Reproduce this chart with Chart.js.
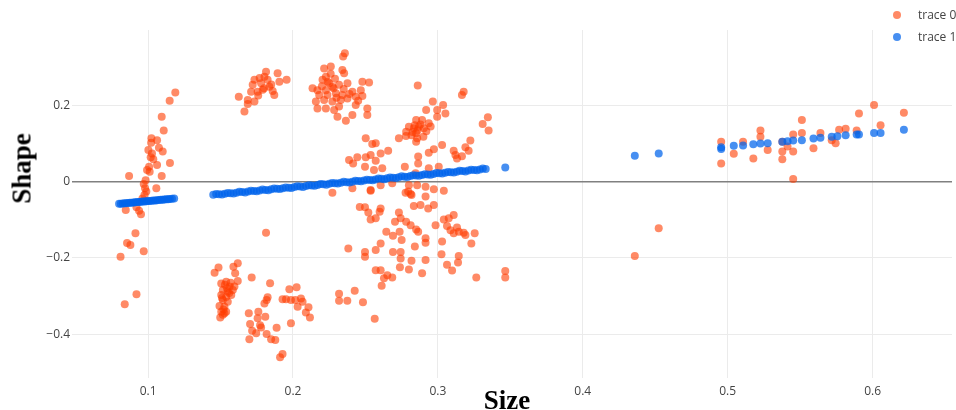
<!DOCTYPE html>
<html>
<head>
<meta charset="utf-8">
<script src="https://cdn.jsdelivr.net/npm/chart.js@4.4.1/dist/chart.umd.min.js"></script>
<style>
  html, body { margin: 0; padding: 0; background: #fff; }
  #wrap { position: relative; width: 956px; height: 410px; overflow: hidden; }
  canvas { position: absolute; left: 0; top: 0; }
  .ttl { position: absolute; font-family: "Liberation Serif", "Times New Roman", serif; font-weight: bold; font-size: 27px; line-height: 27px; color: #000; text-align: center; white-space: nowrap; }
  .leg { position: absolute; font-family: "Open Sans", sans-serif; font-size: 12px; color: #444; white-space: nowrap; line-height: 14px; }
  .dot { position: absolute; width: 8px; height: 8px; border-radius: 50%; }
</style>
</head>
<body>
<div id="wrap">
  <canvas id="c" width="956" height="410"></canvas>
  <div class="ttl" style="left:-28px;top:155px;width:100px;height:27px;transform:rotate(-90deg);">Shape</div>
  <div class="ttl" style="left:457px;top:387px;width:100px;height:27px;">Size</div>
  <div class="dot" style="left:893px;top:11px;background:rgba(255,60,0,0.6);"></div>
  <div class="leg" style="left:918px;top:8px;">trace 0</div>
  <div class="dot" style="left:893px;top:33px;background:rgba(0,100,235,0.72);"></div>
  <div class="leg" style="left:918px;top:30px;">trace 1</div>
</div>
<script>
// ---- data ----
const seriesNames = ['trace 0', 'trace 1'];
const xTicks = [0.1, 0.2, 0.3, 0.4, 0.5, 0.6];
const xTickLabels = ['0.1', '0.2', '0.3', '0.4', '0.5', '0.6'];
const yTicks = [-0.4, -0.2, 0, 0.2];
const yTickLabels = ['\u22120.4', '\u22120.2', '0', '0.2'];

// trace 0 (orange) clusters, [Size, Shape]
const trace0Left = [[0.1188,0.234],[0.1149,0.212],[0.1094,0.170],[0.1108,0.134],[0.1023,0.114],[0.1062,0.109],[0.1021,0.102],[0.1075,0.089],[0.1002,0.083],[0.1101,0.079],[0.1027,0.074],[0.1018,0.064],[0.1036,0.059],[0.1062,0.044],[0.1151,0.049],[0.1007,0.039],[0.0993,0.031],[0.1011,0.026],[0.1094,0.015],[0.0869,0.015],[0.0983,0.004],[0.0970,-0.006],[0.1057,-0.017],[0.0979,-0.017],[0.0988,-0.026],[0.0975,-0.035],[0.0961,-0.044],[0.0920,-0.067],[0.0846,-0.074],[0.0938,-0.076],[0.0951,-0.085],[0.0913,-0.135],[0.0855,-0.161],[0.0878,-0.166],[0.0970,-0.182],[0.0810,-0.197],[0.0920,-0.295],[0.0839,-0.321]];
const trace0UpperA = [[0.1814,0.288],[0.1894,0.284],[0.1803,0.275],[0.1734,0.267],[0.1825,0.267],[0.1906,0.262],[0.1956,0.267],[0.1780,0.258],[0.1722,0.254],[0.1837,0.249],[0.1791,0.241],[0.1711,0.236],[0.1756,0.236],[0.1871,0.227],[0.1626,0.223],[0.1688,0.214],[0.1734,0.210],[0.1688,0.204],[0.1665,0.184],[0.1770,0.272],[0.1850,0.255],[0.1800,0.245],[0.1860,0.238],[0.1760,0.226]];
const trace0UpperB = [[0.2358,0.337],[0.2346,0.328],[0.2215,0.297],[0.2261,0.302],[0.2341,0.293],[0.2353,0.284],[0.2227,0.275],[0.2204,0.267],[0.2250,0.258],[0.2135,0.245],[0.2169,0.240],[0.2227,0.240],[0.2272,0.249],[0.2318,0.254],[0.2376,0.258],[0.2479,0.262],[0.2525,0.260],[0.2181,0.227],[0.2238,0.227],[0.2296,0.232],[0.2341,0.227],[0.2410,0.236],[0.2468,0.240],[0.2158,0.210],[0.2215,0.214],[0.2272,0.210],[0.2330,0.214],[0.2376,0.218],[0.2433,0.223],[0.2479,0.225],[0.2169,0.192],[0.2227,0.192],[0.2284,0.188],[0.2318,0.197],[0.2433,0.201],[0.2513,0.192],[0.2307,0.170],[0.2365,0.160],[0.2410,0.175],[0.2513,0.175],[0.2240,0.262],[0.2290,0.270],[0.2280,0.245],[0.2300,0.220],[0.2390,0.230],[0.2200,0.250],[0.2260,0.283],[0.2350,0.243],[0.2450,0.212]];
const trace0LowerA = [[0.1459,-0.239],[0.1486,-0.225],[0.1589,-0.223],[0.1619,-0.214],[0.1601,-0.240],[0.1619,-0.260],[0.1505,-0.267],[0.1539,-0.262],[0.1562,-0.275],[0.1596,-0.275],[0.1516,-0.284],[0.1550,-0.288],[0.1585,-0.284],[0.1505,-0.297],[0.1539,-0.302],[0.1574,-0.297],[0.1516,-0.310],[0.1550,-0.315],[0.1493,-0.326],[0.1527,-0.328],[0.1505,-0.341],[0.1539,-0.341],[0.1516,-0.349],[0.1498,-0.356],[0.1527,-0.345],[0.1715,-0.251],[0.1814,-0.134],[0.1530,-0.270],[0.1560,-0.292],[0.1545,-0.280],[0.1520,-0.335],[0.1570,-0.265],[0.1510,-0.305]];
const trace0LowerB = [[0.1825,-0.303],[0.1818,-0.310],[0.1803,-0.319],[0.1761,-0.341],[0.1695,-0.345],[0.1756,-0.358],[0.1809,-0.354],[0.1704,-0.373],[0.1773,-0.376],[0.1780,-0.382],[0.1718,-0.391],[0.1746,-0.397],[0.1887,-0.383],[0.1818,-0.399],[0.1699,-0.413],[0.1849,-0.413],[0.1878,-0.415],[0.1928,-0.452],[0.1911,-0.460],[0.1975,-0.282],[0.2025,-0.277],[0.1928,-0.308],[0.1952,-0.308],[0.1986,-0.310],[0.2016,-0.310],[0.2055,-0.306],[0.2066,-0.315],[0.2032,-0.328],[0.2107,-0.329],[0.2089,-0.343],[0.2117,-0.356],[0.1986,-0.371],[0.1842,-0.266],[0.2318,-0.294],[0.2318,-0.312],[0.2375,-0.312],[0.2426,-0.286],[0.2382,-0.175],[0.2483,-0.316],[0.2564,-0.359]];
const trace0MidUpper = [[0.2861,0.252],[0.3178,0.236],[0.3166,0.227],[0.2965,0.210],[0.3036,0.201],[0.2919,0.188],[0.2995,0.188],[0.3052,0.179],[0.2995,0.170],[0.3345,0.169],[0.3309,0.151],[0.3350,0.134],[0.2937,0.153],[0.2891,0.162],[0.2850,0.162],[0.2800,0.144],[0.2834,0.140],[0.2869,0.144],[0.2903,0.140],[0.2781,0.131],[0.2850,0.127],[0.2818,0.122],[0.2857,0.114],[0.2850,0.105],[0.2731,0.114],[0.3224,0.108],[0.3190,0.090],[0.3212,0.081],[0.3109,0.081],[0.3166,0.067],[0.3132,0.061],[0.3121,0.070],[0.3029,0.096],[0.2972,0.085],[0.2937,0.076],[0.2864,0.066],[0.2864,0.048],[0.2772,0.039],[0.2846,0.022],[0.2937,0.035],[0.3006,0.039],[0.2571,0.101],[0.2547,0.099],[0.2502,0.114],[0.2657,0.081],[0.2605,0.074],[0.2536,0.070],[0.2444,0.064],[0.2387,0.057],[0.2502,0.064],[0.2571,0.055],[0.2415,0.048],[0.2497,0.039],[0.2559,0.031],[0.2616,0.035],[0.2685,-0.004],[0.2800,-0.009],[0.2857,-0.009],[0.2915,-0.013],[0.2972,-0.020],[0.3041,-0.024],[0.2818,-0.035],[0.2915,-0.039],[0.2536,-0.022],[0.2410,-0.017],[0.2795,-0.026],[0.2272,-0.029],[0.2605,-0.009],[0.2812,-0.032],[0.2536,-0.024],[0.2880,0.150],[0.2860,0.135],[0.2840,0.148],[0.2825,0.130],[0.2950,0.145],[0.2920,0.132],[0.2780,0.120],[0.2900,0.118]];
const trace0MidLower = [[0.2777,-0.029],[0.2461,-0.066],[0.2497,-0.067],[0.2520,-0.081],[0.2536,-0.099],[0.2571,-0.096],[0.2605,-0.070],[0.2598,-0.079],[0.2731,-0.081],[0.2743,-0.096],[0.2704,-0.105],[0.2781,-0.105],[0.2812,-0.114],[0.2850,-0.125],[0.2864,-0.131],[0.2834,-0.064],[0.2880,-0.061],[0.2933,-0.070],[0.2972,-0.061],[0.2984,-0.114],[0.2915,-0.148],[0.2915,-0.160],[0.2841,-0.170],[0.3029,-0.157],[0.2644,-0.131],[0.2690,-0.142],[0.2736,-0.131],[0.2750,-0.153],[0.2605,-0.162],[0.2571,-0.179],[0.2497,-0.184],[0.2497,-0.197],[0.2690,-0.184],[0.2743,-0.184],[0.2743,-0.201],[0.2818,-0.207],[0.2915,-0.205],[0.2738,-0.224],[0.2800,-0.230],[0.2891,-0.240],[0.2571,-0.232],[0.2605,-0.232],[0.2628,-0.253],[0.2651,-0.245],[0.2685,-0.251],[0.2612,-0.273],[0.3041,-0.099],[0.3063,-0.116],[0.3075,-0.096],[0.3109,-0.087],[0.3132,-0.120],[0.3087,-0.127],[0.3109,-0.135],[0.3144,-0.131],[0.3178,-0.134],[0.3190,-0.140],[0.3254,-0.135],[0.3231,-0.162],[0.3025,-0.190],[0.3144,-0.195],[0.3139,-0.212],[0.3063,-0.218],[0.3098,-0.233],[0.3265,-0.251],[0.3465,-0.234],[0.3465,-0.251]];
const trace0Right = [[0.4955,0.105],[0.4955,0.048],[0.5042,0.073],[0.5106,0.105],[0.5177,0.061],[0.5226,0.134],[0.5226,0.118],[0.5276,0.083],[0.5377,0.105],[0.5377,0.079],[0.5377,0.059],[0.5413,0.092],[0.5452,0.124],[0.5452,0.079],[0.5452,0.007],[0.5512,0.162],[0.5512,0.128],[0.5592,0.088],[0.5640,0.128],[0.5718,0.109],[0.5745,0.101],[0.5769,0.136],[0.5814,0.139],[0.5890,0.134],[0.5906,0.179],[0.6010,0.201],[0.6055,0.148],[0.6216,0.181],[0.4359,-0.195],[0.4524,-0.122]];

// trace 1 (blue) points, [Size, Shape]
const trace1Left = [[0.080,-0.0580],[0.0812,-0.0576],[0.0825,-0.0571],[0.0838,-0.0567],[0.085,-0.0562],[0.0862,-0.0558],[0.0875,-0.0553],[0.0888,-0.0549],[0.090,-0.0544],[0.0912,-0.0540],[0.0925,-0.0535],[0.0938,-0.0530],[0.095,-0.0526],[0.0962,-0.0522],[0.0975,-0.0517],[0.0988,-0.0512],[0.100,-0.0508],[0.1012,-0.0504],[0.1025,-0.0499],[0.1038,-0.0494],[0.105,-0.0490],[0.1062,-0.0486],[0.1075,-0.0481],[0.1088,-0.0476],[0.110,-0.0472],[0.1112,-0.0467],[0.1125,-0.0463],[0.1138,-0.0458],[0.115,-0.0454],[0.1165,-0.0448],[0.118,-0.0443]];
const trace1MidA = [[0.145,-0.0345],[0.149,-0.0331],[0.153,-0.0316],[0.157,-0.0302],[0.161,-0.0287],[0.165,-0.0273],[0.169,-0.0258],[0.173,-0.0244],[0.177,-0.0229],[0.181,-0.0215],[0.185,-0.0200],[0.189,-0.0186],[0.193,-0.0171],[0.197,-0.0157],[0.201,-0.0142],[0.205,-0.0128],[0.209,-0.0113],[0.213,-0.0099],[0.217,-0.0084],[0.221,-0.0070],[0.225,-0.0055],[0.229,-0.0041],[0.233,-0.0027],[0.237,-0.0012],[0.241,0.0002],[0.245,0.0017],[0.249,0.0031],[0.253,0.0046],[0.257,0.0060],[0.261,0.0075],[0.265,0.0089],[0.269,0.0104],[0.273,0.0118],[0.277,0.0133],[0.281,0.0147],[0.285,0.0162],[0.289,0.0176],[0.293,0.0191],[0.297,0.0205],[0.301,0.0220],[0.305,0.0234],[0.309,0.0249],[0.313,0.0263],[0.317,0.0278],[0.321,0.0292],[0.325,0.0307],[0.329,0.0321],[0.333,0.0336]];
const trace1MidB = [[0.147,-0.0323],[0.151,-0.0338],[0.155,-0.0294],[0.159,-0.0309],[0.163,-0.0265],[0.167,-0.0280],[0.171,-0.0236],[0.175,-0.0251],[0.179,-0.0207],[0.183,-0.0223],[0.187,-0.0178],[0.191,-0.0194],[0.195,-0.0149],[0.199,-0.0165],[0.203,-0.0120],[0.207,-0.0136],[0.211,-0.0091],[0.215,-0.0107],[0.219,-0.0062],[0.223,-0.0078],[0.227,-0.0033],[0.231,-0.0049],[0.235,-0.0004],[0.239,-0.0020],[0.243,0.0025],[0.247,0.0009],[0.251,0.0054],[0.255,0.0038],[0.259,0.0083],[0.263,0.0067],[0.267,0.0112],[0.271,0.0096],[0.275,0.0141],[0.279,0.0125],[0.283,0.0169],[0.287,0.0154],[0.291,0.0198],[0.295,0.0183],[0.299,0.0227],[0.303,0.0212],[0.307,0.0256],[0.311,0.0241],[0.315,0.0285],[0.319,0.0270],[0.323,0.0314],[0.327,0.0299],[0.331,0.0343]];
const trace1Right = [[0.3465,0.037],[0.4359,0.068],[0.4524,0.074],[0.4955,0.090],[0.4955,0.086],[0.5042,0.094],[0.5106,0.095],[0.5177,0.098],[0.5226,0.100],[0.5276,0.101],[0.5377,0.105],[0.5413,0.106],[0.5452,0.108],[0.5512,0.109],[0.5592,0.113],[0.5640,0.115],[0.5718,0.118],[0.5757,0.119],[0.5814,0.122],[0.5890,0.124],[0.5906,0.124],[0.6010,0.128],[0.6055,0.128],[0.6216,0.136]];

const xRange = [0.0475, 0.6548];
const yRange = [-0.5146, 0.3977];

const toXY = arr => arr.map(p => ({ x: p[0], y: p[1] }));
const trace0 = toXY([].concat(trace0Left, trace0UpperA, trace0UpperB, trace0LowerA, trace0LowerB, trace0MidUpper, trace0MidLower, trace0Right));
const trace1 = toXY([].concat(trace1Left, trace1MidA, trace1MidB, trace1Right));

new Chart(document.getElementById('c'), {
  type: 'scatter',
  data: {
    datasets: [
      { label: seriesNames[0], data: trace0, order: 1, pointRadius: 4, pointBorderWidth: 0, pointBackgroundColor: 'rgba(255,60,0,0.6)', pointBorderColor: 'rgba(0,0,0,0)' },
      { label: seriesNames[1], data: trace1, order: 0, pointRadius: 4, pointBorderWidth: 0, pointBackgroundColor: 'rgba(0,100,235,0.72)', pointBorderColor: 'rgba(0,0,0,0)' }
    ]
  },
  options: {
    responsive: false,
    animation: false,
    devicePixelRatio: 1,
    layout: { padding: { left: 0, right: 1, top: 30, bottom: 0 } },
    plugins: { legend: { display: false }, tooltip: { enabled: false } },
    scales: {
      x: {
        type: 'linear', min: xRange[0], max: xRange[1],
        afterBuildTicks: s => { s.ticks = xTicks.map(v => ({ value: v })); },
        afterFit: s => { s.height = 32; },
        border: { display: false },
        grid: { color: '#ebebeb', lineWidth: 1, drawTicks: false },
        ticks: { padding: 6, color: '#444', font: { family: 'Open Sans', size: 12 }, maxRotation: 0, callback: (v, i) => xTickLabels[i] }
      },
      y: {
        type: 'linear', min: yRange[0], max: yRange[1],
        afterBuildTicks: s => { s.ticks = yTicks.map(v => ({ value: v })); },
        afterFit: s => { s.width = 72; },
        border: { display: false },
        grid: {
          drawTicks: false,
          color: c => (c.tick && c.tick.value === 0) ? '#808080' : '#ebebeb',
          lineWidth: c => (c.tick && c.tick.value === 0) ? 1.6 : 1
        },
        ticks: { padding: 2, color: '#444', font: { family: 'Open Sans', size: 12 }, callback: (v, i) => yTickLabels[i] }
      }
    }
  }
});
</script>
</body>
</html>
